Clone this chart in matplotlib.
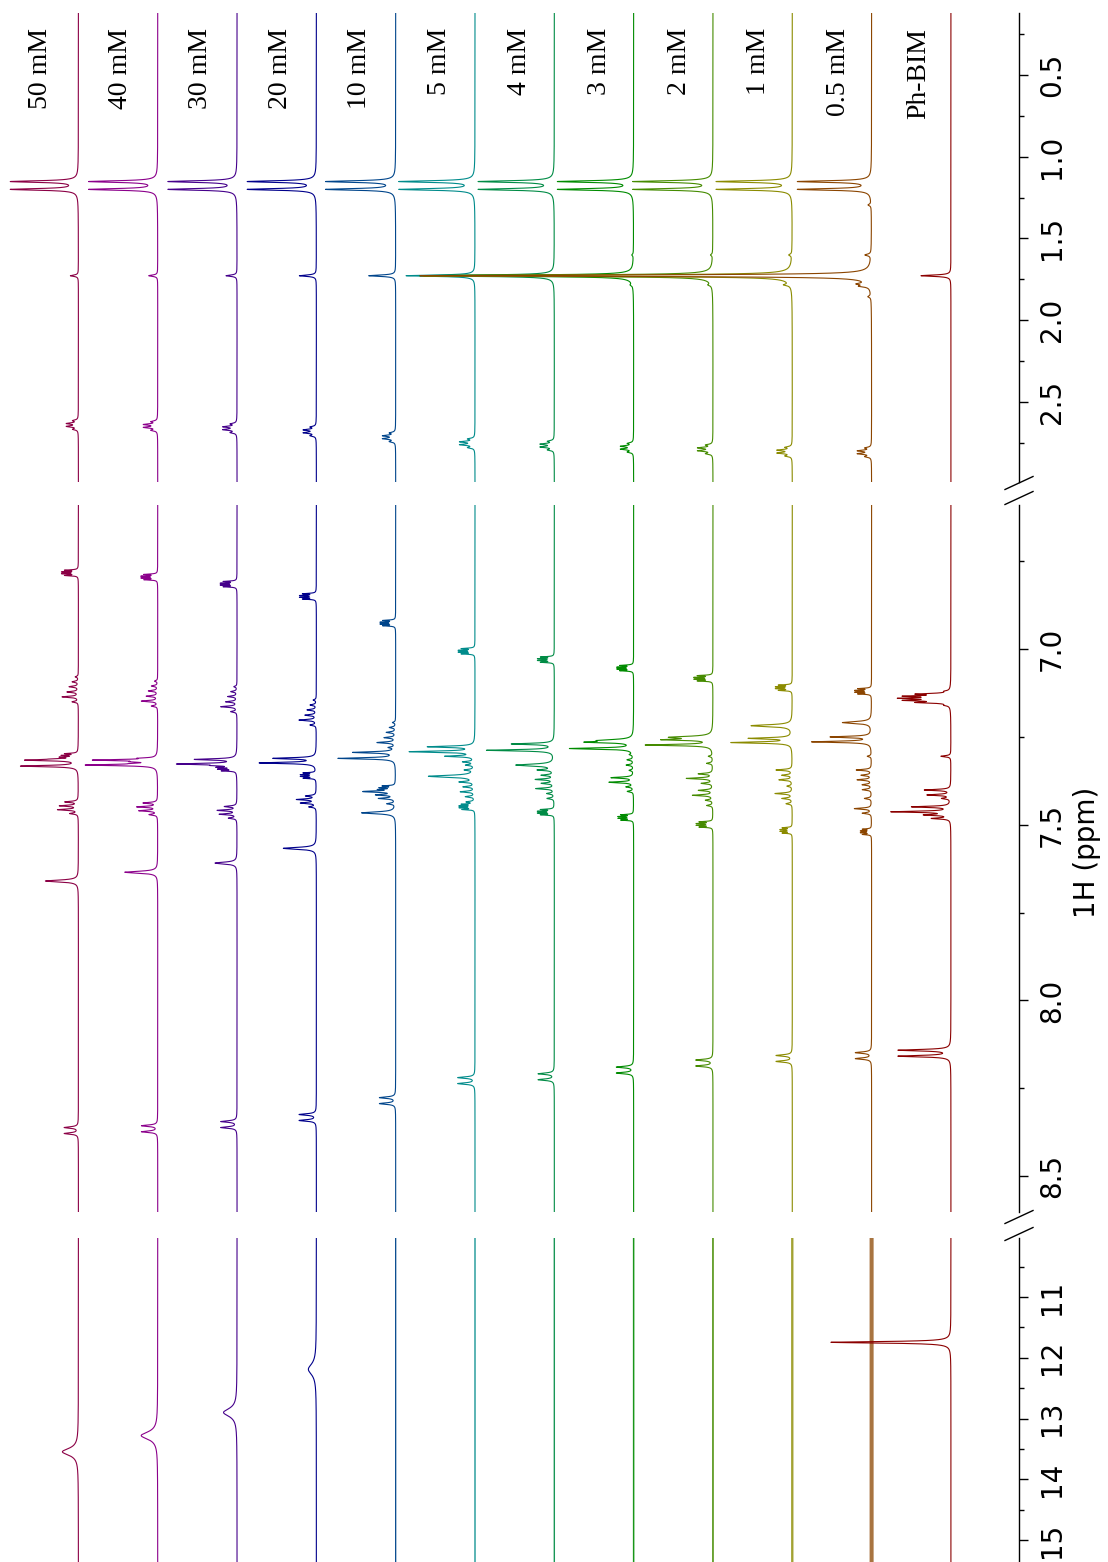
import numpy as np
import matplotlib
matplotlib.use("Agg")
import matplotlib.pyplot as plt
from matplotlib.lines import Line2D
from matplotlib.ticker import FixedLocator

# ---------------------------------------------------------------- data
labels = ['50 mM', '40 mM', '30 mM', '20 mM', '10 mM', '5 mM', '4 mM',
          '3 mM', '2 mM', '1 mM', '0.5 mM', 'Ph-BIM']
colors = ['#8b0045', '#8b008b', '#45008b', '#00008b', '#00458b', '#008b8b',
          '#008b45', '#008b00', '#458b00', '#8b8b00', '#8b4500', '#8b0000']

nan = float('nan')

# aliphatic region: CH3 doublet, water, CH2 quartet  (ppm, depth)
ch3_ppm = [1.152, 1.200]
ch3_depth = [66, 67, 67, 67, 68, 74, 74, 74, 78, 74, 72, 0]
water_ppm = 1.728
water_depth = [8, 9, 11, 17, 27, 69, 135, 210, 290, 370, 452, 30]
ch2_ppm = [2.641, 2.647, 2.661, 2.680, 2.716, 2.753, 2.767, 2.780, 2.790,
           2.804, 2.808, nan]
ch2_depth = [11, 13, 13, 12, 12, 14, 13, 12, 14, 14, 13, 0]

minor_3mM = [(1.601, 1.5), (1.784, 2)]
minor_2mM = [(1.601, 2), (1.784, 3)]
minor_1mM = [(1.601, 3), (1.784, 6)]
minor_05mM = [(1.295, 3), (1.601, 6), (1.778, 10), (1.792, 9), (1.856, 3)]

# aromatic signals followed through the dilution series
a_ppm = [6.783, 6.795, 6.815, 6.850, 6.926, 7.006, 7.030, 7.054, 7.083,
         7.110, 7.120, nan]
a_depth = [15, 15, 15, 15, 14, 15, 15, 15, 17, 15, 15, 0]
g_ppm = [7.305, 7.318, 7.339, 7.360, 7.397, 7.449, 7.464, 7.479, 7.499,
         7.516, 7.520, nan]
g_depth = [14, 14, 16, 14, 14, 14, 15, 14, 15, 11, 10, 0]
c1_ppm = [7.316, 7.316, 7.314, 7.311, 7.294, 7.278, 7.270, 7.265, 7.258,
          7.254, 7.250, nan]
c1_depth = [51, 49, 41, 42, 42, 46, 42, 40, 44, 42, 40, 0]
c2_ppm = [7.333, 7.330, 7.327, 7.324, 7.311, 7.292, 7.288, 7.283, 7.273,
          7.266, 7.264, nan]
c2_depth = [57, 70, 58, 56, 57, 64, 67, 63, 66, 60, 59, 0]
e_ppm = [7.660, 7.635, 7.609, 7.567, 7.466, 7.362, 7.330, 7.260, 7.251,
         7.218, 7.209, nan]
e_depth = [33, 33, 22, 33, 34, 46, 38, 30, 40, 41, 29, 0]
f_ppm = [8.370, 8.365, 8.353, 8.333, 8.285, 8.228, 8.217, 8.198, 8.178,
         8.165, 8.157, 8.150]
f_depth = [14, 16, 16, 17, 16, 17, 16, 17, 17, 16, 16, 52]

# remaining aromatic multiplet lines of each spectrum (ppm, depth)
arom_50mM = [(7.079, 3), (7.093, 6), (7.107, 9), (7.122, 11), (7.136, 16),
             (7.150, 6), (7.435, 13), (7.446, 18), (7.457, 20), (7.468, 8)]
arom_40mM = [(7.091, 3), (7.105, 6), (7.119, 9), (7.134, 11), (7.148, 16),
             (7.162, 6), (7.438, 14), (7.449, 20), (7.460, 18), (7.471, 8)]
arom_30mM = [(7.107, 3), (7.121, 6), (7.135, 9), (7.150, 11), (7.164, 16),
             (7.178, 6), (7.448, 12), (7.459, 19), (7.470, 17), (7.481, 8)]
arom_20mM = [(7.145, 3), (7.159, 6), (7.173, 9), (7.188, 11), (7.202, 17),
             (7.216, 6), (7.418, 10), (7.428, 19), (7.438, 15), (7.449, 7)]
arom_10mM = [(7.209, 3), (7.223, 6), (7.237, 9), (7.252, 11), (7.266, 18),
             (7.280, 6), (7.406, 25), (7.415, 18), (7.425, 16), (7.440, 8)]
arom_5mM = [(7.305, 28), (7.321, 11), (7.330, 8), (7.344, 9), (7.378, 14),
            (7.392, 11), (7.406, 14), (7.420, 9), (7.435, 8)]
arom_4mM = [(7.344, 15), (7.359, 12), (7.371, 18), (7.382, 12), (7.397, 18),
            (7.411, 7), (7.425, 7)]
arom_3mM = [(7.300, 3), (7.315, 6), (7.330, 7), (7.345, 4), (7.366, 22),
            (7.379, 24), (7.392, 7), (7.405, 6)]
arom_2mM = [(7.305, 4), (7.325, 6), (7.355, 14), (7.368, 26), (7.382, 11),
            (7.402, 14), (7.416, 20), (7.430, 7), (7.445, 6)]
arom_1mM = [(7.344, 16), (7.359, 10), (7.372, 13), (7.390, 5), (7.411, 17),
            (7.425, 10), (7.440, 6)]
arom_05mM = [(7.305, 4), (7.344, 15), (7.359, 10), (7.372, 14), (7.386, 9),
             (7.400, 9), (7.425, 7), (7.454, 17), (7.467, 9)]
arom_phbim = [(7.120, 4), (7.128, 30), (7.134, 40), (7.140, 44), (7.146, 40),
              (7.152, 30), (7.160, 4), (7.305, 10), (7.401, 26), (7.415, 23),
              (7.425, 8), (7.449, 38), (7.463, 58), (7.472, 24), (7.482, 18)]

# N-H resonance
nh_ppm = [13.547, 13.280, 12.900, 12.190, nan, nan, nan, nan, nan, nan, nan, 11.746]
nh_depth = [16, 16.5, 13.5, 8, 0, 0, 0, 0, 0, 0, 0, 120]
nh_width = [0.07, 0.075, 0.08, 0.11, 0.1, 0.1, 0.1, 0.1, 0.1, 0.1, 0.1, 0.015]

# coupling patterns
quartet_offsets = [-0.0265, -0.0088, 0.0088, 0.0265]
quartet_rel = [0.45, 1.0, 1.0, 0.45]
fine_offsets = [-0.0075, -0.0025, 0.0025, 0.0075]
fine_rel = [0.85, 1.0, 1.0, 0.85]
f_split = 0.017

# axis segments (ppm)
seg_limits = [(0.121, 2.99), (6.59, 8.602), (10.03, 15.36)]
seg_major = [[0.5, 1.0, 1.5, 2.0, 2.5], [7.0, 7.5, 8.0, 8.5], [11, 12, 13, 14, 15]]
seg_minor = [[0.25, 0.75, 1.25, 1.75, 2.25, 2.75], [6.75, 7.25, 7.75, 8.25],
             [10.5, 11.5, 12.5, 13.5, 14.5]]
seg_fmt = ['%.1f', '%.1f', '%d']

minor_aliph = [[], [], [], [], [], [], [], minor_3mM, minor_2mM, minor_1mM,
               minor_05mM, []]
arom_lines = [arom_50mM, arom_40mM, arom_30mM, arom_20mM, arom_10mM, arom_5mM,
              arom_4mM, arom_3mM, arom_2mM, arom_1mM, arom_05mM, arom_phbim]

# ---------------------------------------------------------------- helpers
W, H, DPI = 1108, 1562, 100


def lorentz(x, center, depth, hw):
    if not np.isfinite(center) or depth == 0:
        return np.zeros_like(x)
    return depth * hw ** 2 / ((x - center) ** 2 + hw ** 2)


def seg1_trace(x, i):
    y = np.zeros_like(x)
    for p in ch3_ppm:
        y += lorentz(x, p, ch3_depth[i], 0.006)
    if ch3_depth[i]:
        y += lorentz(x, np.mean(ch3_ppm), 2.0, 0.03)
    y += lorentz(x, water_ppm, water_depth[i], 0.005)
    for off, rel in zip(quartet_offsets, quartet_rel):
        y += lorentz(x, ch2_ppm[i] + off, ch2_depth[i] * rel, 0.005)
    for p, d in minor_aliph[i]:
        y += lorentz(x, p, d, 0.006)
    return y


def seg2_trace(x, i):
    y = np.zeros_like(x)
    for off, rel in zip(fine_offsets, fine_rel):
        y += lorentz(x, a_ppm[i] + off, a_depth[i] * rel, 0.0013)
        y += lorentz(x, g_ppm[i] + off, g_depth[i] * rel, 0.0013)
    y += lorentz(x, c1_ppm[i], c1_depth[i], 0.0022)
    y += lorentz(x, c2_ppm[i], c2_depth[i], 0.0022)
    y += lorentz(x, e_ppm[i], e_depth[i], 0.0032)
    y += lorentz(x, f_ppm[i] - f_split / 2, f_depth[i], 0.0025)
    y += lorentz(x, f_ppm[i] + f_split / 2, f_depth[i], 0.0025)
    for p, d in arom_lines[i]:
        y += lorentz(x, p, d, 0.0020)
    return y


def seg3_trace(x, i):
    return lorentz(x, nh_ppm[i], nh_depth[i], nh_width[i])


grids = [np.arange(0.121, 2.99, 0.0004),
         np.arange(6.59, 8.602, 0.00015),
         np.arange(10.03, 15.36, 0.002)]
builders = [seg1_trace, seg2_trace, seg3_trace]

# line widths / opacity; the last segment of the dilute samples is noisy
seg3_lw = [0.8, 0.8, 0.8, 0.8, 0.9, 1.0, 1.0, 1.1, 1.3, 1.7, 2.9, 0.8]
seg3_alpha = [1, 1, 1, 1, 1, 0.9, 0.9, 0.9, 0.85, 0.8, 0.75, 1]

# ---------------------------------------------------------------- figure
fig = plt.figure(figsize=(W / DPI, H / DPI), dpi=DPI)

axis_x = 1019                       # ppm axis line (px)
seg_px = [(13, 482), (505, 1212), (1238, 1562)]
base0, spacing = 78.4, 79.32

axes = []
for k, (top, bot) in enumerate(seg_px):
    ax = fig.add_axes([0, 1 - bot / H, axis_x / W, (bot - top) / H])
    ax.set_xlim(0, axis_x)
    ax.set_ylim(seg_limits[k][1], seg_limits[k][0])
    for s in ('top', 'left', 'bottom'):
        ax.spines[s].set_visible(False)
    ax.spines['right'].set_linewidth(1.0)
    ax.set_xticks([])
    ax.yaxis.tick_right()
    ax.yaxis.set_major_locator(FixedLocator(seg_major[k]))
    ax.yaxis.set_minor_locator(FixedLocator(seg_minor[k]))
    ax.set_yticks(seg_major[k])
    ax.set_yticklabels([seg_fmt[k] % v for v in seg_major[k]], rotation=90,
                       va='center', ha='left', fontsize=20,
                       family='DejaVu Sans')
    ax.tick_params(axis='y', which='major', length=6.5, width=1.0, pad=7)
    ax.tick_params(axis='y', which='minor', length=3.3, width=1.0)
    ax.patch.set_alpha(0)
    axes.append(ax)

for i in range(len(labels)):
    base = base0 + i * spacing
    for k, ax in enumerate(axes):
        x = grids[k]
        y = builders[k](x, i)
        lw = seg3_lw[i] if k == 2 else 0.8
        alpha = seg3_alpha[i] if k == 2 else 1
        ax.plot(base - y, x, color=colors[i], lw=lw, alpha=alpha,
                solid_joinstyle='round')

# sample labels
for i, lab in enumerate(labels):
    fig.text((40.7 + i * 79.8) / W, 1 - 28 / H, lab, rotation=90,
             ha='center', va='top', fontsize=20, family='Liberation Serif')

# axis title
fig.text(1087 / W, 1 - 852 / H, '1H (ppm)', rotation=90, ha='center',
         va='center', fontsize=20, family='DejaVu Sans')

# axis break marks
for cy in (483, 498, 1217, 1234):
    fig.add_artist(Line2D([1005 / W, 1033 / W],
                          [1 - (cy + 6.5) / H, 1 - (cy - 6.5) / H],
                          transform=fig.transFigure, color='black', lw=1.0))

fig.savefig('out.png', dpi=DPI)
